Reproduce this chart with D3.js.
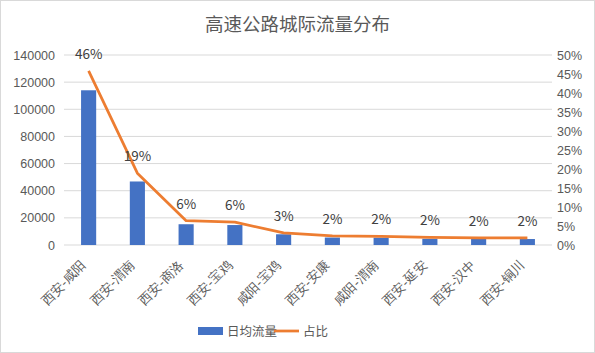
<!DOCTYPE html>
<html>
<head>
<meta charset="utf-8">
<script src="https://cdn.jsdelivr.net/npm/d3@7"></script>
<style>
body { margin: 0; background: #fff; }
svg { font-family: "Microsoft YaHei", "Noto Sans CJK SC", sans-serif; }
</style>
</head>
<body>
<div id="chart"></div>
<script>
const categories = ['西安-咸阳','西安-渭南','西安-商洛','西安-宝鸡','咸阳-宝鸡','西安-安康','咸阳-渭南','西安-延安','西安-汉中','西安-铜川'];
const flow = [114000, 46800, 15300, 14700, 7900, 5500, 5400, 4600, 4500, 4400];
const share = [0.458, 0.189, 0.064, 0.060, 0.032, 0.024, 0.023, 0.020, 0.019, 0.019];
const shareLabels = ['46%','19%','6%','6%','3%','2%','2%','2%','2%','2%'];
const leftTicks = [0, 20000, 40000, 60000, 80000, 100000, 120000, 140000];
const rightTicks = [0, 0.05, 0.1, 0.15, 0.2, 0.25, 0.3, 0.35, 0.4, 0.45, 0.5];

const width = 595, height = 353;
const plot = {left: 64, right: 552, top: 55, bottom: 245};

const svg = d3.select('#chart')
                .append('svg')
                .attr('width', width)
                .attr('height', height);

// outer frame
svg.append('rect')
    .attr('x', 0.5).attr('y', 0.5)
    .attr('width', width - 1).attr('height', height - 1)
    .attr('fill', '#fff')
    .attr('stroke', '#d9d9d9');

let scaleX = d3.scaleBand().range([plot.left, plot.right]).domain(categories).paddingInner(0.69).paddingOuter(0.35);
let scaleY = d3.scaleLinear().range([plot.bottom, plot.top]).domain([0, 140000]);
let scaleY2 = d3.scaleLinear().range([plot.bottom, plot.top]).domain([0, 0.5]);

// gridlines
svg.append('g')
    .selectAll('line')
    .data(leftTicks)
    .enter()
    .append('line')
    .attr('x1', plot.left)
    .attr('x2', plot.right)
    .attr('y1', d => scaleY(d))
    .attr('y2', d => scaleY(d))
    .style('stroke', '#d9d9d9')
    .style('stroke-width', 1);

let yAxis = d3.axisLeft(scaleY).tickValues(leftTicks).tickSize(0).tickPadding(9).tickFormat(d3.format('d'));
let yAxis2 = d3.axisRight(scaleY2).tickValues(rightTicks).tickSize(0).tickPadding(5).tickFormat(d3.format('.0%'));

let yAxisGroup = svg.append('g')
    .attr('transform', 'translate(' + plot.left + ',0)')
    .call(yAxis);
let yAxisGroup2 = svg.append('g')
    .attr('transform', 'translate(' + plot.right + ',0)')
    .call(yAxis2);

[yAxisGroup, yAxisGroup2].forEach(g => {
    g.select('.domain').remove();
    g.selectAll('text')
        .style('fill', '#595959')
        .style('font-size', '12.5px');
});

// x axis labels
let xAxis = d3.axisBottom(scaleX).tickSize(0).tickPadding(0);
let xAxisGroup = svg.append('g')
    .attr('transform', 'translate(0,' + plot.bottom + ')')
    .call(xAxis);
xAxisGroup.select('.domain').remove();
xAxisGroup.selectAll('text')
    .style('fill', '#595959')
    .style('font-size', '13px')
    .style('text-anchor', 'end')
    .attr('dy', 0)
    .attr('transform', 'translate(-2,21) rotate(-45)');

// bars
svg.selectAll('.bar')
    .data(flow)
    .enter()
    .append('rect')
    .attr('class', 'bar')
    .attr('x', (d, i) => scaleX(categories[i]))
    .attr('width', scaleX.bandwidth())
    .attr('y', d => scaleY(d))
    .attr('height', d => scaleY(0) - scaleY(d))
    .style('fill', '#4472C4');

// line
let line = d3.line()
    .x((d, i) => scaleX(categories[i]) + scaleX.bandwidth() / 2)
    .y(d => scaleY2(d));

svg.append('path')
    .datum(share)
    .attr('d', line)
    .style('fill', 'none')
    .style('stroke', '#ED7D31')
    .style('stroke-width', 2.75)
    .style('stroke-linejoin', 'round');

// data labels
svg.selectAll('.lbl')
    .data(share)
    .enter()
    .append('text')
    .attr('class', 'lbl')
    .attr('x', (d, i) => scaleX(categories[i]) + scaleX.bandwidth() / 2)
    .attr('y', d => scaleY2(d) - 12)
    .style('text-anchor', 'middle')
    .style('fill', '#404040')
    .style('font-size', '13.5px')
    .text((d, i) => shareLabels[i]);

// title
svg.append('text')
    .attr('x', width / 2)
    .attr('y', 31)
    .style('text-anchor', 'middle')
    .style('fill', '#595959')
    .style('font-size', '18.5px')
    .text('高速公路城际流量分布');

// legend
let legend = svg.append('g').attr('transform', 'translate(0,331)');
legend.append('rect')
    .attr('x', 198).attr('y', -4)
    .attr('width', 25).attr('height', 8)
    .style('fill', '#4472C4');
legend.append('text')
    .attr('x', 227).attr('y', 5)
    .style('fill', '#595959')
    .style('font-size', '12.5px')
    .text('日均流量');
legend.append('line')
    .attr('x1', 274).attr('x2', 299)
    .attr('y1', 0).attr('y2', 0)
    .style('stroke', '#ED7D31')
    .style('stroke-width', 2.75);
legend.append('text')
    .attr('x', 303).attr('y', 5)
    .style('fill', '#595959')
    .style('font-size', '12.5px')
    .text('占比');
</script>
</body>
</html>
